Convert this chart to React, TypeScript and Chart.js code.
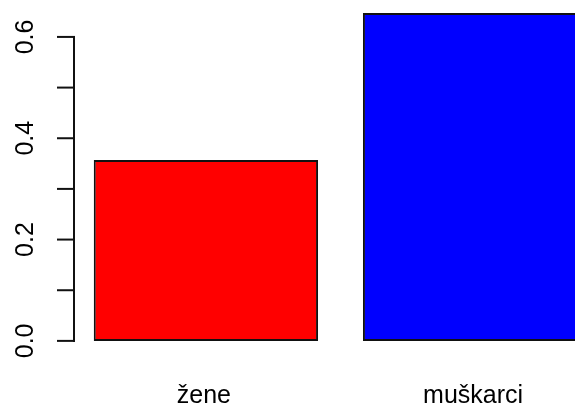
import { useEffect, useRef } from "react";
import { Chart, registerables } from "chart.js";

Chart.register(...registerables);

const categories = ["žene", "muškarci"];
const values = [0.357, 0.647];
const barColors = ["#ff0000", "#0000ff"];
const yTickValues = [0, 0.1, 0.2, 0.3, 0.4, 0.5, 0.6];
const yTickLabels = ["0.0", "", "0.2", "", "0.4", "", "0.6"];

// R barplot geometry: bar width 1, space 0.2, axes extended by 4%
const BAR_W = 1;
const SPACE = 0.2;
const centers = categories.map((_, i) => SPACE + BAR_W / 2 + i * (BAR_W + SPACE));
const xLo = SPACE;
const xHi = categories.length * (BAR_W + SPACE);
const xPad = (xHi - xLo) * 0.04;
const yMaxV = Math.max(...values);
const yPad = yMaxV * 0.04;

const FONT = "Liberation Sans, Arial, sans-serif";

const rAxesPlugin = {
  id: "rAxes",
  afterDraw(chart: any) {
    const ctx = chart.ctx;
    const ys = chart.scales.y;
    const xs = chart.scales.x;
    const area = chart.chartArea;
    const left = area.left;
    ctx.save();
    ctx.strokeStyle = "#111";
    ctx.lineWidth = 2;
    ctx.lineCap = "square";
    ctx.beginPath();
    ctx.moveTo(left, ys.getPixelForValue(yTickValues[0]));
    ctx.lineTo(left, ys.getPixelForValue(yTickValues[yTickValues.length - 1]));
    ctx.stroke();
    ctx.fillStyle = "#000";
    ctx.font = `25px ${FONT}`;
    yTickValues.forEach((v, i) => {
      const py = ys.getPixelForValue(v);
      ctx.beginPath();
      ctx.moveTo(left - 16, py);
      ctx.lineTo(left, py);
      ctx.stroke();
      const lab = yTickLabels[i];
      if (lab) {
        ctx.save();
        ctx.translate(left - 41, py);
        ctx.rotate(-Math.PI / 2);
        ctx.textAlign = "center";
        ctx.textBaseline = "alphabetic";
        ctx.fillText(lab, 0, 0);
        ctx.restore();
      }
    });
    ctx.textAlign = "center";
    ctx.textBaseline = "alphabetic";
    categories.forEach((c, i) => {
      ctx.fillText(c, xs.getPixelForValue(centers[i]) - 2, area.bottom + 49);
    });
    ctx.restore();
  },
};

export default function App() {
  const ref = useRef<HTMLCanvasElement>(null);
  useEffect(() => {
    if (!ref.current) return;
    const chart = new Chart(ref.current, {
      type: "bar",
      data: {
        datasets: [
          {
            data: centers.map((c, i) => ({ x: c, y: values[i] })),
            backgroundColor: barColors,
            borderColor: "#111",
            borderWidth: 2,
            borderSkipped: false,
            barPercentage: 1,
            categoryPercentage: BAR_W / (BAR_W + SPACE),
          } as any,
        ],
      },
      options: {
        animation: false,
        responsive: false,
        devicePixelRatio: 1,
        layout: { padding: { left: 74, right: 13, top: 0, bottom: 56 } },
        plugins: { legend: { display: false }, tooltip: { enabled: false } },
        scales: {
          x: {
            type: "linear",
            offset: false,
            bounds: "data",
            min: xLo - xPad,
            max: xHi + xPad,
            display: false,
            afterBuildTicks: (s: any) => {
              s.ticks = centers.map((v) => ({ value: v }));
            },
          },
          y: {
            type: "linear",
            min: -yPad,
            max: yMaxV + yPad,
            display: false,
          },
        },
      },
      plugins: [rAxesPlugin],
    });
    return () => chart.destroy();
  }, []);
  return (
    <div
      style={{
        position: "fixed",
        left: 0,
        top: 0,
        width: 575,
        height: 410,
        overflow: "hidden",
        background: "#fff",
      }}
    >
      <canvas ref={ref} width={620} height={410} style={{ display: "block" }} />
    </div>
  );
}
